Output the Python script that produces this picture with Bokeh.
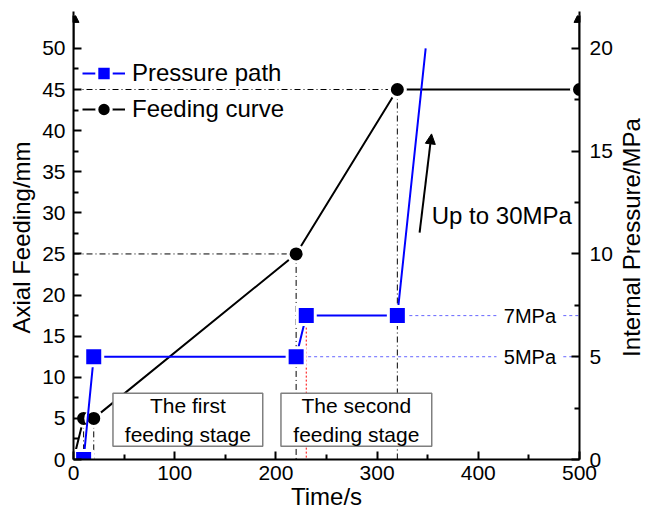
import math
from bokeh.plotting import figure
from bokeh.layouts import row
from bokeh.models import (Range1d, LinearAxis, FixedTicker, Legend, LegendItem,
                          Arrow, NormalHead, Label, Title)
from bokeh.core.properties import value
from bokeh.embed import file_html
from bokeh.resources import INLINE

# ---------------- data ----------------
feed_time = [0, 10, 20, 220, 320, 500]          # s
feed_mm = [0, 5, 5, 25, 45, 45]                 # mm
press_time = [0, 10, 20, 220, 230, 320, 348]    # s
press_mpa = [0, 0, 5, 5, 7, 7, 20]              # MPa
press_marked = 6                                # points drawn with a square
stage_labels = ["The first\nfeeding stage", "The second\nfeeding stage"]
pressure_labels = ["5MPa", "7MPa"]
note_label = "Up to 30MPa"
right_title = "Internal Pressure/MPa"
x_ticks = [0, 100, 200, 300, 400, 500]
x_minor = [50, 150, 250, 350, 450]
left_ticks = [0, 5, 10, 15, 20, 25, 30, 35, 40, 45, 50]
left_minor = [2.5, 7.5, 12.5, 17.5, 22.5, 27.5, 32.5, 37.5, 42.5, 47.5]
right_ticks = [0, 5, 10, 15, 20]
right_minor = [2.5, 7.5, 12.5, 17.5]

FONT = "Liberation Sans"

p = figure(width=615, height=513, output_backend="svg", toolbar_location=None,
           x_range=Range1d(0, 500), y_range=Range1d(0, 54),
           min_border_left=73, min_border_right=35, min_border_top=15,
           min_border_bottom=54)
p.extra_y_ranges = {"right": Range1d(0, 21.6)}
p.outline_line_color = None
p.xgrid.visible = False
p.ygrid.visible = False
p.background_fill_color = "white"
p.border_fill_color = "white"

raxis = LinearAxis(y_range_name="right")
p.add_layout(raxis, "right")


def style(ax, ticks, minor, label):
    ax.ticker = FixedTicker(ticks=ticks, minor_ticks=minor)
    ax.axis_label = label
    ax.axis_line_width = 2
    ax.axis_line_color = "black"
    ax.major_tick_in = 8
    ax.major_tick_out = 0
    ax.minor_tick_in = 5
    ax.minor_tick_out = 0
    ax.major_tick_line_width = 2
    ax.minor_tick_line_width = 2
    ax.major_label_text_font = FONT
    ax.major_label_text_font_size = "21px"
    ax.major_label_text_color = "black"
    ax.axis_label_text_font = FONT
    ax.axis_label_text_font_size = "24px"
    ax.axis_label_text_font_style = "normal"
    ax.axis_label_text_color = "black"
    ax.major_label_standoff = 8
    ax.axis_label_standoff = 4


style(p.xaxis[0], x_ticks, x_minor, "Time/s")
style(p.yaxis[0], left_ticks, left_minor, "Axial Feeding/mm")
style(raxis, right_ticks, right_minor, None)
p.xaxis[0].major_label_standoff = 6
p.xaxis[0].axis_label_standoff = 0
raxis.major_label_standoff = 10

# ---------- reference lines (dash-dot) ----------
dd = "6 3 1 3"
idx = [1, 2, 3, 4]
p.segment(x0=[feed_time[i] for i in idx], y0=[feed_mm[i] for i in idx],
          x1=[feed_time[i] for i in idx], y1=[0] * len(idx),
          line_color="black", line_width=1, line_dash=dd)
p.segment(x0=[0, 0], y0=[feed_mm[3], feed_mm[4]],
          x1=[feed_time[3], feed_time[4]], y1=[feed_mm[3], feed_mm[4]],
          line_color="black", line_width=1, line_dash=dd)
# red dotted vertical at the 7MPa step
p.segment(x0=[press_time[4]], y0=[press_mpa[4]], x1=[press_time[4]], y1=[0],
          line_color="red", line_width=1, line_dash="2 2", y_range_name="right")
# blue dotted pressure levels, broken for their labels
lvl_start = [press_time[3], press_time[5]]
lvl_val = [press_mpa[3], press_mpa[5]]
p.segment(x0=lvl_start + [484, 484], y0=lvl_val + lvl_val,
          x1=[418, 418, 500, 500], y1=lvl_val + lvl_val,
          line_color="#6666ff", line_width=1, line_dash="3 3", y_range_name="right")
for lab, v in zip(pressure_labels, lvl_val):
    p.add_layout(Label(x=451, y=v, y_range_name="right", text=lab,
                       text_align="center", text_baseline="middle",
                       text_font=FONT, text_font_size="20px", text_color="black"))

# ---------- feeding curve line ----------
feed_line = p.line(feed_time, feed_mm, line_color="black", line_width=2)

# ---------- stage boxes ----------
box_left = [39, 205]
box_right = [187, 354]
p.quad(left=box_left, right=box_right, bottom=[1.6, 1.6], top=[8.05, 8.05],
       fill_color="white", line_color="#7f7f7f", line_width=1.5)
p.text(x=[(a + b) / 2 for a, b in zip(box_left, box_right)], y=[4.8, 4.8],
       text=stage_labels, text_align="center", text_baseline="middle",
       text_font=value(FONT), text_font_size="21px", text_color="black",
       text_line_height=1.25)

feed_pts = p.scatter(feed_time, feed_mm, marker="circle", size=16,
                     fill_color="black", line_color="white", line_width=3)

# ---------- pressure path ----------
press_line = p.line(press_time, press_mpa, line_color="blue", line_width=2,
                    y_range_name="right")
press_pts = p.scatter(press_time[:press_marked], press_mpa[:press_marked],
                      marker="square", size=18, fill_color="blue",
                      line_color="white", line_width=3, y_range_name="right")

# ---------- annotations ----------
p.add_layout(Arrow(end=NormalHead(size=10, fill_color="black", line_color="black"),
                   x_start=342, y_start=27.6, x_end=353.8, y_end=39.6,
                   line_color="black", line_width=2))
p.add_layout(Label(x=354, y=29.7, text=note_label, text_baseline="middle",
                   text_font=FONT, text_font_size="24px", text_color="black"))

# axis arrow heads
p.add_layout(Arrow(end=NormalHead(size=11, fill_color="black", line_color="black"),
                   x_start=0, y_start=50, x_end=0, y_end=54.5,
                   line_color="black", line_width=2))
p.add_layout(Arrow(end=NormalHead(size=11, fill_color="black", line_color="black"),
                   x_start=500, y_start=50, x_end=500, y_end=54.5,
                   line_color="black", line_width=2))

legend = Legend(items=[LegendItem(label="Pressure path", renderers=[press_line, press_pts]),
                       LegendItem(label="Feeding curve", renderers=[feed_line, feed_pts])],
                location=(9, 332), orientation="vertical",
                glyph_width=43, glyph_height=36, label_standoff=7, spacing=-1,
                padding=0, margin=0,
                label_text_font=FONT, label_text_font_size="24px",
                label_text_color="black",
                background_fill_alpha=0, border_line_alpha=0)
p.add_layout(legend)

# ---------- right axis title (reads bottom to top) ----------
side = figure(width=30, height=513, output_backend="svg", toolbar_location=None,
              x_range=Range1d(0, 1), y_range=Range1d(0, 1),
              min_border_left=0, min_border_right=0, min_border_top=0,
              min_border_bottom=18)
side.axis.visible = False
side.grid.visible = False
side.outline_line_color = None
side.border_fill_color = "white"
side.background_fill_color = "white"
side.add_layout(Title(text=right_title, align="center", text_font=FONT,
                      text_font_size="24px", text_font_style="normal",
                      text_color="black", standoff=0, offset=0), "left")

layout = row(p, side, spacing=0)
open("out.html", "w").write(file_html(layout, INLINE))
